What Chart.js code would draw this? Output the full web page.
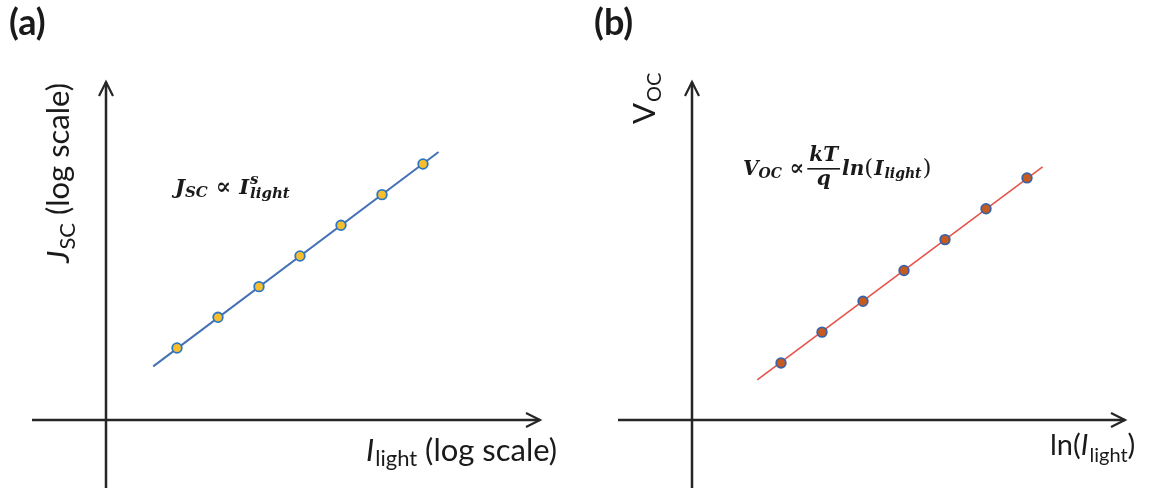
<!DOCTYPE html>
<html>
<head>
<meta charset="utf-8">
<script src="https://cdn.jsdelivr.net/npm/chart.js@4.4.0/dist/chart.umd.min.js"></script>
<style>
  html, body { margin: 0; padding: 0; background: #fff; }
  #wrap { position: relative; width: 1151px; height: 488px; overflow: hidden; }
  #wrap canvas { position: absolute; top: 0; }
  #chartA { left: 0; }
  #chartB { left: 576px; }
</style>
</head>
<body>
<div id="wrap">
  <canvas id="chartA" width="576" height="488"></canvas>
  <canvas id="chartB" width="575" height="488"></canvas>
</div>
<script>
// light intensity steps (arbitrary units, schematic only)
const lightLevels = [2, 3, 4, 5, 6, 7, 8];
const jscValues = [2, 3, 4, 5, 6, 7, 8];
const vocValues = [2, 3, 4, 5, 6, 7, 8];

// end points of the straight fits
const fitLight = [1.42, 8.38];
const fitJsc = [1.40, 8.39];
const fitVoc = [1.45, 8.36];

const SANS = 'Lato, "Open Sans", sans-serif';
const MATH = '"DejaVu Serif", "Liberation Serif", serif';

function toPoints(xs, ys) {
  return xs.map((x, i) => ({ x: x, y: ys[i] }));
}

// draws a run of text pieces one after the other (sub/superscripts via dy)
function drawRuns(ctx, x, y, runs) {
  runs.forEach(r => {
    ctx.font = r.font;
    ctx.fillText(r.text, x, y + (r.dy || 0));
    if (!r.stay) x += ctx.measureText(r.text).width + (r.gap || 0);
  });
  return x;
}

function drawAxes(chart, tail) {
  const ctx = chart.ctx;
  const a = chart.chartArea;
  ctx.save();
  ctx.strokeStyle = '#262626';
  ctx.lineWidth = 2.5;
  ctx.beginPath();
  ctx.moveTo(a.left - tail, a.bottom);
  ctx.lineTo(a.right, a.bottom);
  ctx.moveTo(a.left, chart.height);
  ctx.lineTo(a.left, a.top);
  ctx.stroke();
  // open arrow heads
  ctx.lineWidth = 2.2;
  ctx.beginPath();
  ctx.moveTo(a.right - 14, a.bottom - 7);
  ctx.lineTo(a.right, a.bottom);
  ctx.lineTo(a.right - 14, a.bottom + 7);
  ctx.moveTo(a.left - 7, a.top + 14);
  ctx.lineTo(a.left, a.top);
  ctx.lineTo(a.left + 7, a.top + 14);
  ctx.stroke();
  ctx.restore();
}

function makeChart(id, cfg) {
  return new Chart(document.getElementById(id), {
    type: 'scatter',
    data: {
      datasets: [{
        data: toPoints(lightLevels, cfg.values),
        showLine: false,
        pointRadius: 4.8,
        pointBorderWidth: 1.8,
        pointBackgroundColor: cfg.fill,
        pointBorderColor: cfg.edge,
        order: 0
      }, {
        data: toPoints(fitLight, cfg.fit),
        showLine: true,
        borderColor: cfg.line,
        borderWidth: cfg.lineWidth,
        pointRadius: 0,
        order: 1
      }]
    },
    options: {
      responsive: false,
      devicePixelRatio: 1,
      animation: false,
      layout: { padding: cfg.padding },
      scales: {
        x: { type: 'linear', display: false, min: cfg.xRange[0], max: cfg.xRange[1] },
        y: { type: 'linear', display: false, min: cfg.yRange[0], max: cfg.yRange[1] }
      },
      plugins: { legend: { display: false }, tooltip: { enabled: false } }
    },
    plugins: [{
      id: 'arrowAxes',
      beforeDatasetsDraw(chart) { drawAxes(chart, cfg.tail); }
    }, {
      id: 'labels',
      afterDraw(chart) {
        const ctx = chart.ctx;
        ctx.save();
        ctx.fillStyle = '#1a1a1a';
        ctx.textBaseline = 'alphabetic';
        cfg.labels(ctx);
        ctx.restore();
      }
    }]
  });
}

// (a) short-circuit current vs light intensity
makeChart('chartA', {
  values: jscValues,
  fit: fitJsc,
  fill: '#F8BE2C',
  edge: '#2E78C2',
  line: '#4470B6',
  lineWidth: 2,
  padding: { left: 106, right: 36, top: 82, bottom: 68 },
  xRange: [0.268, 10.854],
  yRange: [-0.348, 10.673],
  tail: 74,
  labels(ctx) {
    drawRuns(ctx, 9, 35, [{ text: '(a)', font: 'bold 36px ' + SANS }]);
    drawRuns(ctx, 175, 194, [
      { text: 'J', font: 'bold italic 21px ' + MATH },
      { text: 'SC', font: 'bold italic 15px ' + MATH, dy: 3 },
      { text: ' \u221D ', font: 'bold 23px ' + MATH },
      { text: 'I', font: 'bold italic 21px ' + MATH, gap: 1 },
      { text: 's', font: 'bold italic 15px ' + MATH, dy: -10, stay: true },
      { text: 'light', font: 'bold italic 15px ' + MATH, dy: 4 }
    ]);
    drawRuns(ctx, 366, 461, [
      { text: 'I', font: 'italic 31px ' + SANS, gap: 1 },
      { text: 'light', font: '22px ' + SANS, dy: 5 },
      { text: ' (log scale)', font: '31px ' + SANS }
    ]);
    ctx.save();
    ctx.translate(69, 263);
    ctx.rotate(-Math.PI / 2);
    drawRuns(ctx, 0, 0, [
      { text: 'J', font: 'italic 31px ' + SANS, gap: 1 },
      { text: 'SC', font: '22px ' + SANS, dy: 6 },
      { text: ' (log scale)', font: '31px ' + SANS }
    ]);
    ctx.restore();
  }
});

// (b) open-circuit voltage vs ln of light intensity
makeChart('chartB', {
  values: vocValues,
  fit: fitVoc,
  fill: '#C65A1F',
  edge: '#3A62A6',
  line: '#E5534B',
  lineWidth: 1.6,
  padding: { left: 116, right: 26, top: 82, bottom: 68 },
  xRange: [-0.171, 10.39],
  yRange: [0.151, 11.11],
  tail: 74,
  labels(ctx) {
    drawRuns(ctx, 18, 35, [{ text: '(b)', font: 'bold 36px ' + SANS }]);
    let x = drawRuns(ctx, 167, 175, [
      { text: 'V', font: 'bold italic 20px ' + MATH },
      { text: 'OC', font: 'bold italic 14px ' + MATH, dy: 3 },
      { text: ' \u221D', font: 'bold 22px ' + MATH, gap: 3 }
    ]);
    // kT over q
    ctx.font = 'bold italic 20px ' + MATH;
    const w = ctx.measureText('kT').width + 4;
    ctx.textAlign = 'center';
    ctx.fillText('kT', x + w / 2, 161);
    ctx.fillText('q', x + w / 2, 185);
    ctx.fillRect(x, 168, w, 1.6);
    ctx.textAlign = 'left';
    drawRuns(ctx, x + w + 2, 175, [
      { text: 'ln', font: 'bold italic 20px ' + MATH },
      { text: '(', font: '23px ' + MATH, gap: 1 },
      { text: 'I', font: 'bold italic 20px ' + MATH, gap: 1 },
      { text: 'light', font: 'bold italic 14px ' + MATH, dy: 3, gap: 1 },
      { text: ')', font: '23px ' + MATH }
    ]);
    drawRuns(ctx, 474, 455, [
      { text: 'ln(', font: '29px ' + SANS },
      { text: 'I', font: 'italic 29px ' + SANS, gap: 1 },
      { text: 'light', font: '20px ' + SANS, dy: 7 },
      { text: ')', font: '29px ' + SANS }
    ]);
    ctx.save();
    ctx.translate(79, 124);
    ctx.rotate(-Math.PI / 2);
    drawRuns(ctx, 0, 0, [
      { text: 'V', font: '31px ' + SANS, gap: 1 },
      { text: 'OC', font: '20px ' + SANS, dy: 6 }
    ]);
    ctx.restore();
  }
});
</script>
</body>
</html>
